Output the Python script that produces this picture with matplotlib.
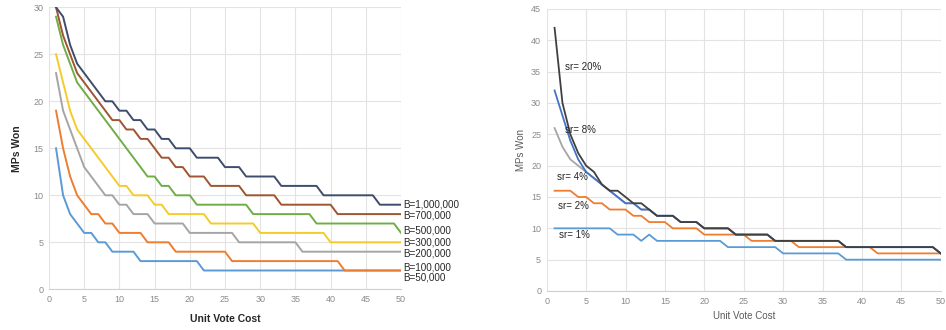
import matplotlib
matplotlib.use("Agg")
import matplotlib.pyplot as plt

plt.rcParams['font.family'] = ['Liberation Sans', 'DejaVu Sans']

# ---------------- data ----------------
unit_cost = list(range(1, 51))

# Left panel: budgets
b_1000000 = [30, 29, 26, 24, 23, 22, 21, 20, 20, 19, 19, 18, 18, 17, 17, 16, 16, 15, 15, 15,
             14, 14, 14, 14, 13, 13, 13] + [12] * 5 + [11] * 6 + [10] * 8 + [9] * 4
b_700000 = [30, 27, 25, 23, 22, 21, 20, 19, 18, 18, 17, 17, 16, 16, 15, 14, 14, 13, 13, 12,
            12, 12, 11, 11, 11, 11, 11] + [10] * 5 + [9] * 8 + [8] * 10
b_500000 = [29, 26, 24, 22, 21, 20, 19, 18, 17, 16, 15, 14, 13, 12, 12, 11, 11, 10, 10, 10] \
    + [9] * 8 + [8] * 9 + [7] * 12 + [6]
b_300000 = [25, 22, 19, 17, 16, 15, 14, 13, 12, 11, 11, 10, 10, 10, 9, 9] \
    + [8] * 6 + [7] * 7 + [6] * 10 + [5] * 11
b_200000 = [23, 19, 17, 15, 13, 12, 11, 10, 10, 9, 9, 8, 8, 8, 7, 7, 7, 7, 7] \
    + [6] * 7 + [5] * 9 + [4] * 15
b_100000 = [19, 15, 12, 10, 9, 8, 8, 7, 7, 6, 6, 6, 6, 5, 5, 5, 5] \
    + [4] * 8 + [3] * 16 + [2] * 9
b_50000 = [15, 10, 8, 7, 6, 6, 5, 5, 4, 4, 4, 4] + [3] * 9 + [2] * 29

budget_labels = ["B=1,000,000", "B=700,000", "B=500,000", "B=300,000",
                 "B=200,000", "B=100,000", "B=50,000"]
budget_label_y = [9.0, 7.9, 6.3, 5.0, 3.8, 2.3, 1.3]

# Right panel: success rates
sr_20 = [42, 30, 25, 22, 20, 19, 17, 16, 16, 15, 14, 14, 13, 12, 12, 12, 11, 11, 11] \
    + [10] * 4 + [9] * 5 + [8] * 9 + [7] * 12 + [6]
sr_8 = [32, 28, 24, 21, 19, 18, 17, 16, 15, 14, 14, 13, 13, 12, 12, 12, 11, 11, 11] \
    + [10] * 4 + [9] * 5 + [8] * 9 + [7] * 12 + [6]
sr_4 = [26, 23, 21, 20, 19, 18, 17, 16, 15, 14, 14, 13, 13, 12, 12, 12, 11, 11, 11] \
    + [10] * 4 + [9] * 5 + [8] * 9 + [7] * 12 + [6]
sr_2 = [16, 16, 16, 15, 15, 14, 14, 13, 13, 13, 12, 12, 11, 11, 11, 10, 10, 10, 10] \
    + [9] * 6 + [8] * 6 + [7] * 10 + [6] * 9
sr_1 = [10] * 8 + [9, 9, 9, 8, 9] + [8] * 9 + [7] * 7 + [6] * 8 + [5] * 13

sr_labels = ["sr= 20%", "sr= 8%", "sr= 4%", "sr= 2%", "sr= 1%"]
sr_label_pos = [(2.3, 35.8), (2.3, 25.7), (1.3, 18.2), (1.4, 13.6), (1.5, 8.9)]

x_ticks = list(range(0, 51, 5))
left_y_ticks = list(range(0, 31, 5))
right_y_ticks = list(range(0, 46, 5))

# ---------------- figure ----------------
fig = plt.figure(figsize=(9.46, 3.30), dpi=100)
fig.patch.set_facecolor('white')

ax1 = fig.add_axes([49 / 946, 40.7 / 330, 352 / 946, 282 / 330])
ax2 = fig.add_axes([546.7 / 946, 39 / 330, 394 / 946, 282 / 330])

grid_c = '#e3e3e3'
tick_c = '#8a8a8a'


def style(ax, yt, ymax):
    ax.set_xlim(0, 50)
    ax.set_ylim(0, ymax)
    ax.set_xticks(x_ticks)
    ax.set_yticks(yt)
    ax.grid(True, color=grid_c, linewidth=0.8)
    ax.set_axisbelow(True)
    for s in ['top', 'right', 'left']:
        ax.spines[s].set_visible(False)
    ax.spines['bottom'].set_color('#d0d0d0')
    ax.tick_params(length=0, labelsize=6.5, colors=tick_c, pad=4)


style(ax1, left_y_ticks, 30)
style(ax2, right_y_ticks, 45)

left_series = [b_50000, b_100000, b_200000, b_300000, b_500000, b_700000, b_1000000]
left_colors = ['#5B9BD5', '#ED7D31', '#A5A5A5', '#F5CB2C', '#70AD47', '#9E5530', '#3E4D6C']
for ys, c in zip(left_series, left_colors):
    ax1.plot(unit_cost, ys, color=c, lw=1.4, solid_joinstyle='round')

for lab, yy in zip(budget_labels, budget_label_y):
    ax1.text(50.3, yy, lab, fontsize=7.1, color='#262626', va='center', ha='left',
             clip_on=False)

ax1.set_xlabel('Unit Vote Cost', fontsize=7.5, color='#262626', fontweight='bold', labelpad=7)
ax1.set_ylabel('MPs Won', fontsize=7.5, color='#262626', fontweight='bold', labelpad=8)

right_series = [sr_1, sr_2, sr_4, sr_8, sr_20]
right_colors = ['#5B9BD5', '#ED7D31', '#A5A5A5', '#4472C4', '#404040']
for ys, c in zip(right_series, right_colors):
    ax2.plot(unit_cost, ys, color=c, lw=1.3, solid_joinstyle='round')

for lab, (xx, yy) in zip(sr_labels, sr_label_pos):
    ax2.text(xx, yy, lab, fontsize=7, color='#262626', va='center', ha='left')

ax2.set_xlabel('Unit Vote Cost', fontsize=7, color='#595959', labelpad=4)
ax2.set_ylabel('MPs Won', fontsize=7, color='#595959', labelpad=4)

fig.savefig('out.png', dpi=100, facecolor='white')
